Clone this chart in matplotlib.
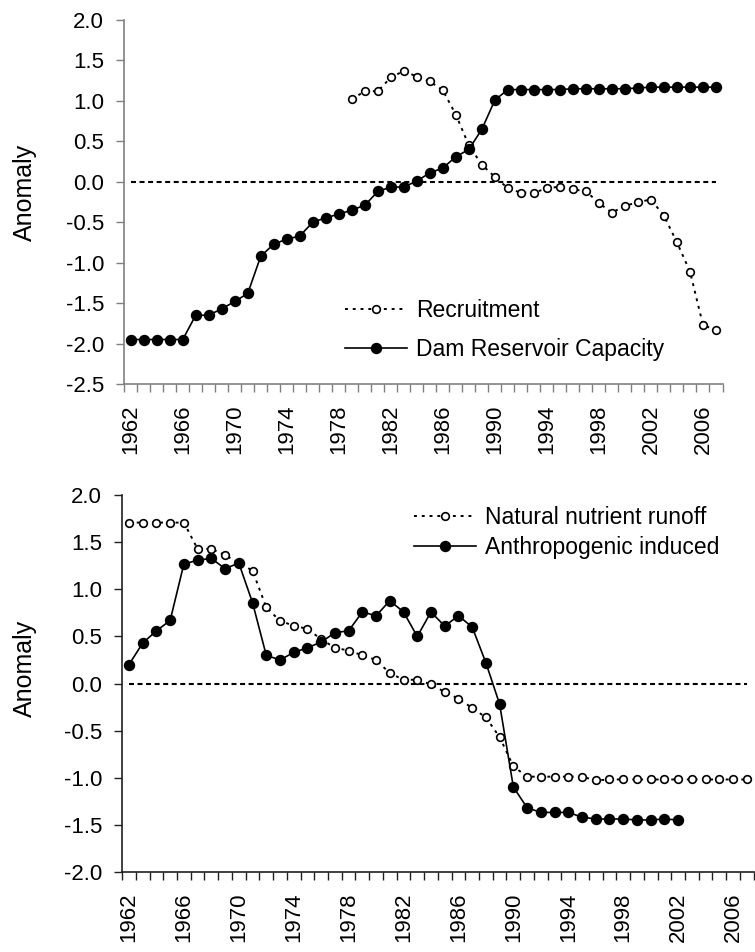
import numpy as np
import matplotlib
matplotlib.use("Agg")
import matplotlib.pyplot as plt
from matplotlib.ticker import FixedLocator, FormatStrFormatter

plt.rcParams['font.family'] = ['Liberation Sans', 'DejaVu Sans']

# ---------------- data ----------------
years = list(range(1962, 2008))

dam_years = list(range(1962, 2008))
dam_capacity = [-1.95, -1.95, -1.95, -1.95, -1.95, -1.65, -1.65, -1.57, -1.48, -1.38,
                -0.92, -0.77, -0.71, -0.67, -0.50, -0.445, -0.40, -0.35, -0.29, -0.12,
                -0.065, -0.065, 0.01, 0.11, 0.17, 0.31, 0.40, 0.65, 1.01, 1.14,
                1.14, 1.14, 1.14, 1.14, 1.15, 1.15, 1.15, 1.15, 1.15, 1.16,
                1.17, 1.17, 1.17, 1.17, 1.17, 1.17]

rec_years = list(range(1979, 2008))
recruitment = [1.02, 1.12, 1.12, 1.29, 1.37, 1.30, 1.24, 1.13, 0.83, 0.45,
               0.21, 0.06, -0.08, -0.135, -0.135, -0.08, -0.06, -0.095, -0.115, -0.265,
               -0.38, -0.30, -0.25, -0.22, -0.42, -0.75, -1.11, -1.77, -1.835]

nat_years = list(range(1962, 2008))
natural_runoff = [1.71, 1.71, 1.71, 1.71, 1.71, 1.43, 1.43, 1.365, 1.28, 1.20,
                  0.81, 0.665, 0.615, 0.58, 0.47, 0.38, 0.35, 0.30, 0.25, 0.11,
                  0.04, 0.04, -0.01, -0.09, -0.16, -0.26, -0.36, -0.57, -0.88, -0.99,
                  -0.99, -0.99, -0.99, -0.99, -1.03, -1.02, -1.02, -1.02, -1.02, -1.02,
                  -1.02, -1.02, -1.02, -1.02, -1.02, -1.02]

anth_years = list(range(1962, 2003))
anthropogenic = [0.20, 0.43, 0.56, 0.67, 1.27, 1.31, 1.33, 1.22, 1.28, 0.86,
                 0.30, 0.25, 0.33, 0.38, 0.44, 0.54, 0.56, 0.76, 0.72, 0.88,
                 0.76, 0.50, 0.76, 0.61, 0.72, 0.60, 0.22, -0.22, -1.10, -1.32,
                 -1.37, -1.37, -1.37, -1.42, -1.44, -1.44, -1.44, -1.45, -1.45, -1.44,
                 -1.45]

zero_line = [0.0] * len(years)
year_labels = [str(y) for y in range(1962, 2008, 4)]

# ---------------- figure ----------------
W, H = 755, 952
fig = plt.figure(figsize=(W / 100, H / 100), dpi=100)


def px_axes(x0, x1, y0, y1):
    return fig.add_axes([x0 / W, 1 - y1 / H, (x1 - x0) / W, (y1 - y0) / H])


ax1 = px_axes(124.2, 722.5, 20, 384)
ax2 = px_axes(122.1, 753.6, 495.3, 871.7)

TICK_FS = 16
LEG_FS = 16.5
LAB_FS = 18


def style_axes(ax, ymin, ymax, spine_color, label_xy):
    ax.set_xlim(years[0] - 0.5, years[-1] + 0.5)
    ax.set_ylim(ymin, ymax)
    for s in ['top', 'right']:
        ax.spines[s].set_visible(False)
    for s in ['left', 'bottom']:
        ax.spines[s].set_color(spine_color)
        ax.spines[s].set_linewidth(1.2)
    # category boundaries as major ticks (no labels)
    ax.xaxis.set_major_locator(FixedLocator(np.arange(years[0] - 0.5, years[-1] + 1.0, 1.0)))
    ax.xaxis.set_major_formatter(plt.NullFormatter())
    ax.tick_params(axis='x', which='major', direction='out', length=5.5, width=1.0,
                   colors=spine_color)
    # labels at category centres
    ax.xaxis.set_minor_locator(FixedLocator([int(l) for l in year_labels]))
    ax.set_xticklabels(year_labels, minor=True, rotation=90)
    ax.tick_params(axis='x', which='minor', length=0, pad=15, labelsize=TICK_FS,
                   labelcolor='black')
    ax.set_yticks(np.arange(ymin, ymax + 0.01, 0.5))
    ax.yaxis.set_major_formatter(FormatStrFormatter('%.1f'))
    ax.tick_params(axis='y', direction='out', length=5.5, width=1.0, pad=9,
                   labelsize=TICK_FS, colors=spine_color, labelcolor='black')
    ax.set_ylabel('Anomaly', fontsize=LAB_FS)
    ax.yaxis.set_label_coords(*label_xy)


style_axes(ax1, -2.5, 2.0, '#808080', (-0.146, 0.525))
style_axes(ax2, -2.0, 2.0, '#202020', (-0.135, 0.541))

open_kw = dict(marker='o', markersize=5.5, markerfacecolor='white',
               markeredgecolor='black', markeredgewidth=1.2, color='black',
               linewidth=1.4, linestyle=(0, (1.5, 2.5)))
fill_kw = dict(marker='o', markersize=7.2, markerfacecolor='black',
               markeredgecolor='black', color='black', linewidth=1.2, linestyle='-')
zero_kw = dict(color='black', linewidth=1.5, linestyle=(0, (2.4, 1.7)))

# top panel
ax1.plot(years, zero_line, **zero_kw)
ax1.plot(rec_years, recruitment, label='Recruitment', zorder=3, **open_kw)
ax1.plot(dam_years, dam_capacity, label='Dam Reservoir Capacity', zorder=4, **fill_kw)
ax1.legend(loc='upper left', bbox_to_anchor=(345 / W, 1 - 299 / H),
           bbox_transform=fig.transFigure, frameon=False, fontsize=LEG_FS,
           handlelength=2.7, handletextpad=0.4, labelspacing=0.71,
           borderpad=0, borderaxespad=0, numpoints=1)

# bottom panel
ax2.plot(years, zero_line, **zero_kw)
ax2.plot(nat_years, natural_runoff, label='Natural nutrient runoff', zorder=3, **open_kw)
ax2.plot(anth_years, anthropogenic, label='Anthropogenic induced', zorder=4, **fill_kw)
ax2.legend(loc='upper left', bbox_to_anchor=(414 / W, 1 - 506 / H),
           bbox_transform=fig.transFigure, frameon=False, fontsize=LEG_FS,
           handlelength=2.7, handletextpad=0.4, labelspacing=0.29,
           borderpad=0, borderaxespad=0, numpoints=1)

fig.savefig('out.png', dpi=100)
